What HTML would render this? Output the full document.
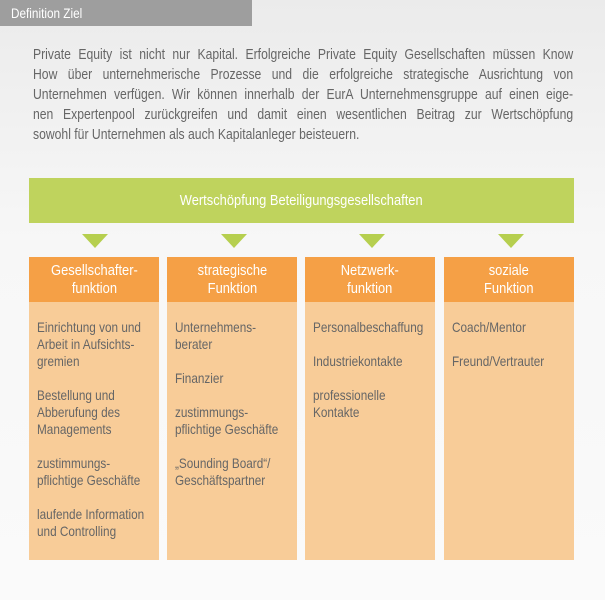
<!DOCTYPE html>
<html><head><meta charset="utf-8"><style>
*{margin:0;padding:0;box-sizing:border-box}
body{width:605px;height:600px;overflow:hidden;background:linear-gradient(#ebebeb,#f7f7f7 40%,#fafafa);font-family:"Liberation Sans",sans-serif;color:#666;position:relative}
.sx{transform:scaleX(.84);transform-origin:left top;white-space:nowrap}
.hd{position:absolute;left:0;top:0;width:252px;height:26px;background:#9e9e9e;color:#fff;font-size:14px;line-height:26px;padding-left:11px}
.p{position:absolute;left:33px;top:45px;width:643px;font-size:14.5px;line-height:20px}
.p div{text-align:justify;text-align-last:justify;white-space:normal}
.p div.l{text-align-last:left}
.g{position:absolute;left:29px;top:178px;width:545px;height:45px;background:#bfd35d;color:#fff;font-size:15px;line-height:45px;text-align:center}
.g span{display:inline-block;transform:scaleX(.86)}
.ar{position:absolute;top:234px;width:0;height:0;border-left:13px solid transparent;border-right:13px solid transparent;border-top:14px solid #b6cf4f}
.c{position:absolute;top:257px;width:130px;height:303px;background:#f8cc98}
.c .h{height:45px;background:#f5a046;color:#fff;font-size:15px;line-height:18px;text-align:center;padding-top:5px}
.c .h span{display:inline-block;transform:scaleX(.86)}
.c .b{position:absolute;left:8px;top:62px;width:150px;font-size:14px;line-height:17px}
.c .b p{margin-bottom:17px}
</style></head><body>
<div class="hd"><div class="sx">Definition Ziel</div></div>
<div class="p sx">
<div>Private Equity ist nicht nur Kapital. Erfolgreiche Private Equity Gesellschaften müssen Know</div>
<div>How über unternehmerische Prozesse und die erfolgreiche strategische Ausrichtung von</div>
<div>Unternehmen verfügen. Wir können innerhalb der EurA Unternehmensgruppe auf einen eige-</div>
<div>nen Expertenpool zurückgreifen und damit einen wesentlichen Beitrag zur Wertschöpfung</div>
<div class="l">sowohl für Unternehmen als auch Kapitalanleger beisteuern.</div>
</div>
<div class="g"><span>Wertschöpfung Beteiligungsgesellschaften</span></div>
<div class="ar" style="left:82px"></div>
<div class="ar" style="left:221px"></div>
<div class="ar" style="left:359px"></div>
<div class="ar" style="left:498px"></div>
<div class="c" style="left:29px"><div class="h"><span>Gesellschafter-<br>funktion</span></div><div class="b sx"><p>Einrichtung von und<br>Arbeit in Aufsichts-<br>gremien</p><p>Bestellung und<br>Abberufung des<br>Managements</p><p>zustimmungs-<br>pflichtige Geschäfte</p><p>laufende Information<br>und Controlling</p></div></div>
<div class="c" style="left:167px"><div class="h"><span>strategische<br>Funktion</span></div><div class="b sx"><p>Unternehmens-<br>berater</p><p>Finanzier</p><p>zustimmungs-<br>pflichtige Geschäfte</p><p>„Sounding Board“/<br>Geschäftspartner</p></div></div>
<div class="c" style="left:305px"><div class="h"><span>Netzwerk-<br>funktion</span></div><div class="b sx"><p>Personalbeschaffung</p><p>Industriekontakte</p><p>professionelle<br>Kontakte</p></div></div>
<div class="c" style="left:444px"><div class="h"><span>soziale<br>Funktion</span></div><div class="b sx"><p>Coach/Mentor</p><p>Freund/Vertrauter</p></div></div>
</body></html>
